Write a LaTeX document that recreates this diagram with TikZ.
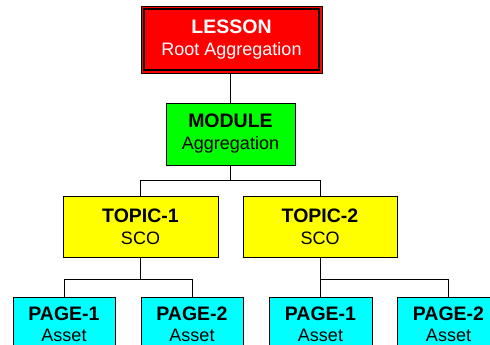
\documentclass[tikz,border=0pt]{standalone}
\usepackage{fontspec}
\setmainfont{Liberation Sans}
\definecolor{boxred}{RGB}{255,0,0}
\definecolor{boxgreen}{RGB}{0,255,0}
\definecolor{boxyellow}{RGB}{255,255,0}
\definecolor{boxcyan}{RGB}{0,255,255}
\tikzset{
  box/.style={draw=black, line width=0.9pt, inner sep=0pt, align=center,
    font=\fontsize{18}{22}\selectfont, text=black},
  pagebox/.style={box, fill=boxcyan, minimum height=54pt, font=\fontsize{18}{21}\selectfont},
  conn/.style={draw=black, line width=1pt},
}
\newcommand{\hd}[1]{{\fontsize{19.5}{22}\selectfont\bfseries #1}}
\begin{document}
\begin{tikzpicture}[x=1pt,y=-1pt]
\useasboundingbox (0,0) rectangle (490,345);
\clip (0,0) rectangle (490,345);
\node[box, fill=boxred, text=white, minimum width=181pt, minimum height=67pt] (lesson) at (231.5,39.5) {\hd{LESSON}\\Root Aggregation};
\draw[black, line width=1.6pt] ([shift={(3.5pt,-3.5pt)}]lesson.north west) rectangle ([shift={(-3.5pt,3.5pt)}]lesson.south east);
\node[box, fill=boxgreen, minimum width=129pt, minimum height=62pt] (module) at (230.5,134) {\hd{MODULE}\\Aggregation};
\node[box, fill=boxyellow, minimum width=155pt, minimum height=61pt] (topic1) at (140.5,226.5) {\hd{TOPIC-1}\\SCO};
\node[box, fill=boxyellow, minimum width=154pt, minimum height=61pt] (topic2) at (320,226.5) {\hd{TOPIC-2}\\SCO};
\node[pagebox, minimum width=102pt] (p11) at (64,324) {\hd{PAGE-1}\\Asset};
\node[pagebox, minimum width=102pt] (p12) at (192,324) {\hd{PAGE-2}\\Asset};
\node[pagebox, minimum width=103pt] (p21) at (320.5,324) {\hd{PAGE-1}\\Asset};
\node[pagebox, minimum width=103pt] (p22) at (448.5,324) {\hd{PAGE-2}\\Asset};
\coordinate (jm) at (230.5,180);
\coordinate (jt1) at (140.5,279);
\coordinate (jt2) at (320,279);
\draw[conn] (module.north) -- (module.north |- lesson.south);
\draw[conn] (module.south) -- (jm);
\draw[conn] (jm) -| (topic1.north);
\draw[conn] (jm) -| (topic2.north);
\draw[conn, line width=1.5pt] (topic1.south) -- (jt1);
\draw[conn] (jt1) -| (p11.north);
\draw[conn] (jt1) -| (p12.north);
\draw[conn] (topic2.south) -- (jt2);
\draw[conn] (jt2) -| (p21.north);
\draw[conn] (jt2) -| (p22.north);
\end{tikzpicture}
\end{document}
